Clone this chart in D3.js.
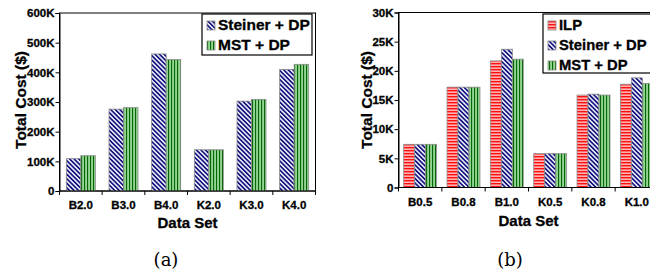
<!DOCTYPE html>
<html>
<head>
  <script src="https://cdn.jsdelivr.net/npm/d3@7"></script>
  <style>
    body { margin: 0; background: #fff; }
  </style>
</head>
<body>
  <div id="chart"></div>

  <script>
    // (a) large data sets
    const catsA = ['B2.0', 'B3.0', 'B4.0', 'K2.0', 'K3.0', 'K4.0'];
    const steinerA = [109000, 276000, 462000, 139000, 303000, 410000];
    const mstA = [119000, 281000, 443000, 139000, 309000, 427000];
    const ticksA = [0, 100000, 200000, 300000, 400000, 500000, 600000];

    // (b) small data sets
    const catsB = ['B0.5', 'B0.8', 'B1.0', 'K0.5', 'K0.8', 'K1.0'];
    const ilpB = [7400, 17200, 21700, 5800, 15850, 17700];
    const steinerB = [7400, 17200, 23700, 5800, 16000, 18800];
    const mstB = [7400, 17200, 22000, 5800, 15850, 17850];
    const ticksB = [0, 5000, 10000, 15000, 20000, 25000, 30000];

    const SANS = '"Liberation Sans", Arial, sans-serif';
    const W = 650, H = 273;
    const svg = d3.select('#chart').append('svg')
      .attr('width', W).attr('height', H);

    const defs = svg.append('defs');

    // hatch fills
    const pIlp = defs.append('pattern').attr('id', 'ilp')
      .attr('patternUnits', 'userSpaceOnUse').attr('width', 4).attr('height', 3);
    pIlp.append('rect').attr('width', 4).attr('height', 3).attr('fill', '#ffb0b0');
    pIlp.append('rect').attr('width', 4).attr('height', 1.4).attr('fill', '#ff1010');

    const pSt = defs.append('pattern').attr('id', 'steiner')
      .attr('patternUnits', 'userSpaceOnUse').attr('width', 3.2).attr('height', 4)
      .attr('patternTransform', 'rotate(-45)');
    pSt.append('rect').attr('width', 3.2).attr('height', 4).attr('fill', '#f4f4ff');
    pSt.append('rect').attr('width', 1.7).attr('height', 4).attr('fill', '#14147e');

    const pMst = defs.append('pattern').attr('id', 'mst')
      .attr('patternUnits', 'userSpaceOnUse').attr('width', 3).attr('height', 4);
    pMst.append('rect').attr('width', 3).attr('height', 4).attr('fill', '#92d492');
    pMst.append('rect').attr('width', 1.1).attr('height', 4).attr('fill', '#066606');

    function bold(sel, size) {
      return sel.attr('font-family', SANS).attr('font-size', size).attr('font-weight', 'bold')
        .attr('fill', '#000').attr('stroke', '#000').attr('stroke-width', 0.3);
    }

    function panel(opt) {
      const g = svg.append('g');
      const { x0, x1, y0, y1 } = opt;

      const x = d3.scaleBand().domain(opt.cats).range([x0, x1])
        .paddingInner(opt.pad).paddingOuter(opt.pad / 2);
      const xs = d3.scaleBand().domain(opt.series.map(s => s.key)).range([0, x.bandwidth()]);
      const y = d3.scaleLinear().domain([0, opt.max]).range([y0, y1]);

      // frame
      g.append('rect').attr('x', x0).attr('y', y1)
        .attr('width', x1 - x0).attr('height', y0 - y1)
        .attr('fill', 'none').attr('stroke', '#000').attr('stroke-width', 1);

      // bars
      opt.series.forEach(s => {
        g.append('g').selectAll('rect').data(s.values).join('rect')
          .attr('x', (d, i) => x(opt.cats[i]) + xs(s.key))
          .attr('y', d => y(d))
          .attr('width', xs.bandwidth())
          .attr('height', d => y0 - y(d))
          .attr('fill', `url(#${s.pat})`)
          .attr('stroke', '#8a8a8a').attr('stroke-width', 0.8);
      });

      // y axis
      const ya = g.append('g').attr('transform', `translate(${x0},0)`)
        .call(d3.axisLeft(y).tickValues(opt.ticks).tickSize(4).tickPadding(1)
          .tickFormat(d => d === 0 ? '0' : d3.format('d')(d / 1000) + 'K'));
      ya.select('.domain').attr('stroke', '#000');
      bold(ya.selectAll('text'), 11.5);

      // x axis: boundary ticks + labels
      const step = x.step();
      const bounds = d3.range(opt.cats.length + 1).map(i => x0 + i * step);
      g.append('line').attr('x1', x0).attr('x2', x1).attr('y1', y0).attr('y2', y0)
        .attr('stroke', '#000');
      g.selectAll('.bt').data(bounds).join('line')
        .attr('x1', d => d).attr('x2', d => d).attr('y1', y0).attr('y2', y0 + 4)
        .attr('stroke', '#000');
      bold(g.selectAll('.xl').data(opt.cats).join('text'), 11.5)
        .attr('x', d => x(d) + x.bandwidth() / 2)
        .attr('y', y0 + 18)
        .attr('text-anchor', 'middle')
        .text(d => d);

      // axis titles
      bold(g.append('text'), 15).attr('x', (x0 + x1) / 2).attr('y', opt.xtY)
        .attr('text-anchor', 'middle')
        .text('Data Set');
      bold(g.append('text'), 15.5)
        .attr('transform', `translate(${opt.ytX},100) rotate(-90)`)
        .attr('text-anchor', 'middle')
        .text('Total Cost ($)');

      // legend
      const L = opt.legend;
      g.append('rect').attr('x', L.x).attr('y', L.y).attr('width', L.w).attr('height', L.h)
        .attr('fill', '#fff').attr('stroke', '#000').attr('stroke-width', 1.2);
      opt.series.forEach((s, i) => {
        const by = L.y + 16 + i * 20;
        g.append('rect').attr('x', L.x + 5).attr('y', by - 9).attr('width', 8).attr('height', 9)
          .attr('fill', `url(#${s.pat})`).attr('stroke', '#8a8a8a').attr('stroke-width', 0.8);
        bold(g.append('text'), L.fs).attr('x', L.x + 16).attr('y', by).text(s.label);
      });

      // caption
      svg.append('text').attr('x', opt.capX).attr('y', 266)
        .attr('text-anchor', 'middle')
        .attr('font-family', '"DejaVu Serif", "Liberation Serif", serif')
        .attr('font-size', 18).text(opt.cap);
    }

    panel({
      cats: catsA, x0: 59.5, x1: 315.5, y0: 191, y1: 13, max: 600000, ticks: ticksA, pad: 0.32,
      series: [
        { key: 's', label: 'Steiner + DP', values: steinerA, pat: 'steiner' },
        { key: 'm', label: 'MST + DP', values: mstA, pat: 'mst' }
      ],
      legend: { x: 202, y: 14, w: 110, h: 41, fs: 15.5 },
      xtY: 228, ytX: 26, cap: '(a)', capX: 166
    });

    panel({
      cats: catsB, x0: 398.5, x1: 658.5, y0: 187.5, y1: 12.5, max: 30000, ticks: ticksB, pad: 0.24,
      series: [
        { key: 'i', label: 'ILP', values: ilpB, pat: 'ilp' },
        { key: 's', label: 'Steiner + DP', values: steinerB, pat: 'steiner' },
        { key: 'm', label: 'MST + DP', values: mstB, pat: 'mst' }
      ],
      legend: { x: 543, y: 14, w: 130, h: 59, fs: 14.8 },
      xtY: 226, ytX: 372, cap: '(b)', capX: 510
    });
  </script>
</body>
</html>
